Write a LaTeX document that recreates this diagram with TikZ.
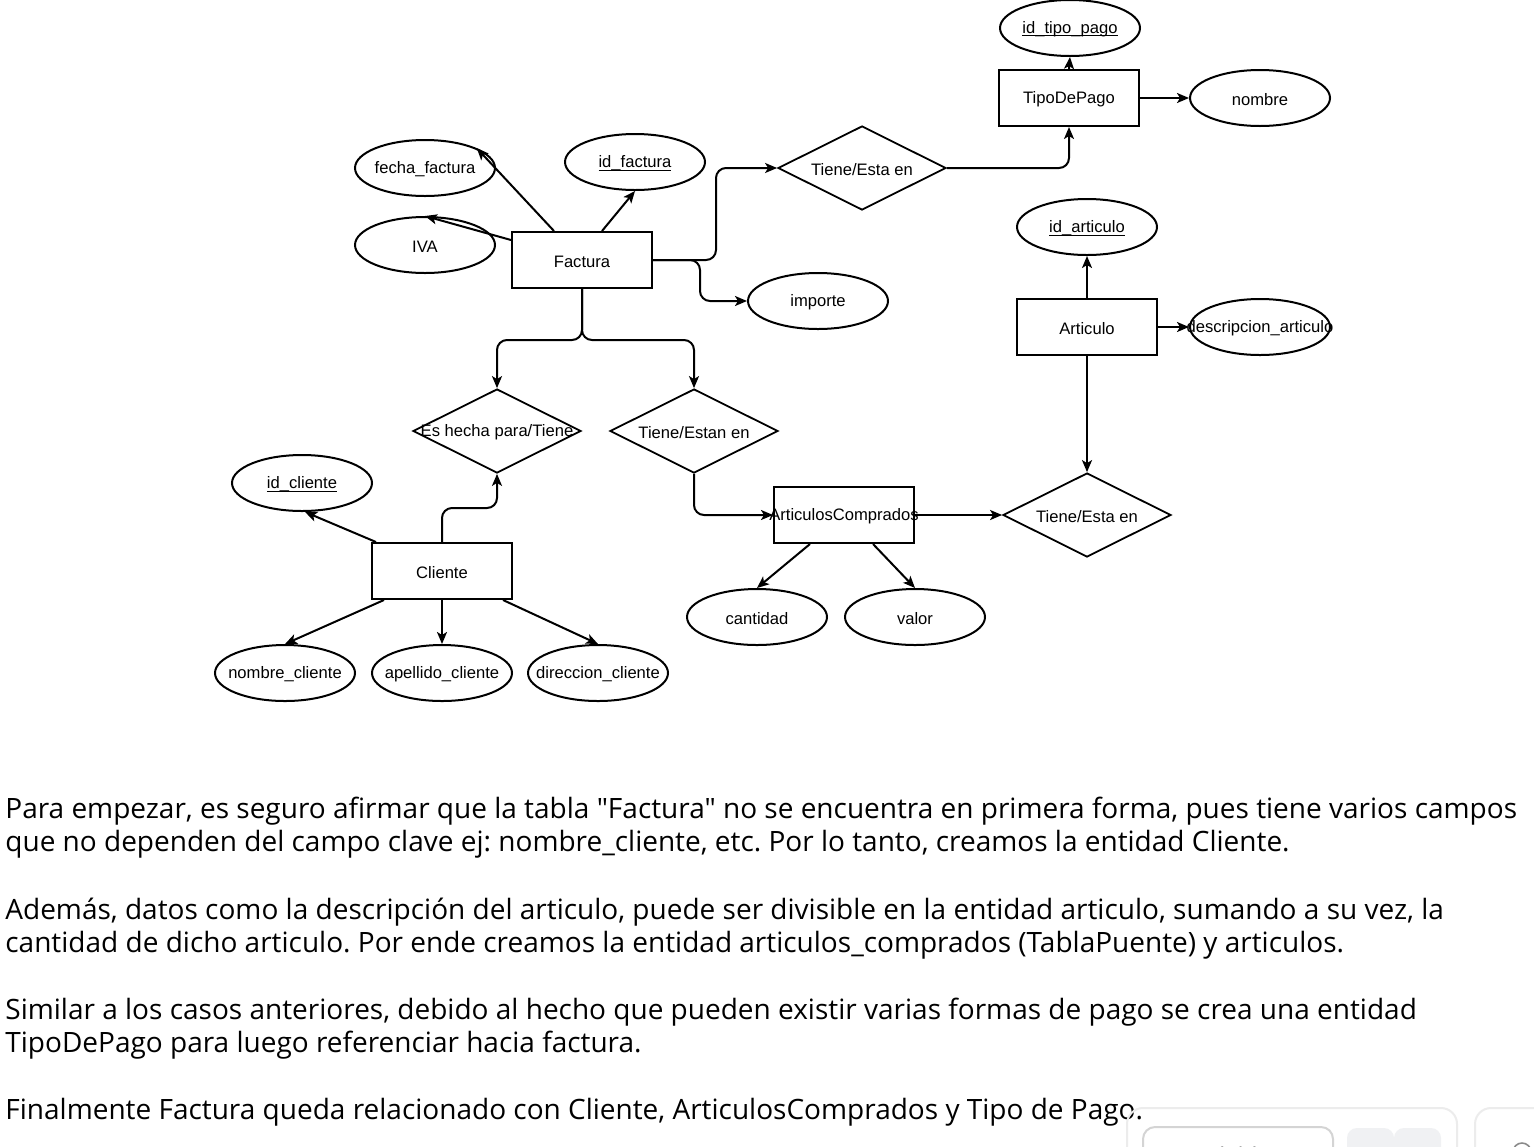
\documentclass[tikz,border=0pt]{standalone}
\usepackage{fontspec}
\setmainfont{Open Sans}[Ligatures=TeXOff]
\newfontfamily\dfont{Liberation Sans}
\usetikzlibrary{shapes.geometric,arrows.meta,calc}
\definecolor{uiborder}{HTML}{ECECEC}
\definecolor{uiinput}{HTML}{D4D4D4}
\definecolor{uibtn}{HTML}{F0F1F3}
\definecolor{uitext}{HTML}{8A8A8A}
\frenchspacing
\newcommand\keyul[1]{\setbox0\hbox{#1}\rlap{\rule[-1.3pt]{\wd0}{0.5pt}}\box0}
\begin{document}
\begin{tikzpicture}[x=0.5pt,y=-0.5pt,
  lab/.style={font=\dfont\fontsize{8.3pt}{10pt}\selectfont,inner sep=0pt,yshift=-0.8pt},
  ent/.style={draw,line width=1pt,rectangle,minimum width=70pt,minimum height=28pt,inner sep=0pt,label={[lab]center:#1}},
  att/.style={draw,line width=1pt,ellipse,minimum width=70pt,minimum height=28pt,inner sep=0pt,label={[lab]center:#1}},
  rel/.style={draw,line width=0.9pt,diamond,minimum width=84pt,minimum height=42pt,inner sep=0pt,shape aspect=2,label={[lab]center:#1}},
  conn/.style={line width=1pt,-{Stealth[length=6pt,width=5pt,inset=1.5pt]}},
  orth/.style={conn,rounded corners=5pt},
  body/.style={anchor=west,inner sep=0pt,font=\fontsize{14pt}{17pt}\selectfont},
]
\useasboundingbox (0,0) rectangle (1534,1146);
\clip (0,0) rectangle (1534,1146);
\fill[white] (0,0) rectangle (1534,1146);

% entities
\node[ent={TipoDePago}] (tdp) at (1069,98) {};
\node[ent={Factura}] (fac) at (582,260) {};
\node[ent={Articulo}] (art) at (1087,327) {};
\node[ent={Cliente}] (cli) at (442,571) {};
\node[ent={ArticulosComprados}] (acp) at (844,515) {};

% attributes
\node[att={\keyul{id\_tipo\_pago}}] (idtp) at (1070,28) {};
\node[att={nombre}] (nom) at (1260,98) {};
\node[att={fecha\_factura}] (fecha) at (425,168) {};
\node[att={\keyul{id\_factura}}] (idf) at (635,162) {};
\node[att={IVA}] (iva) at (425,245) {};
\node[att={importe}] (imp) at (818,301) {};
\node[att={\keyul{id\_articulo}}] (ida) at (1087,227) {};
\node[att={descripcion\_articulo}] (desc) at (1260,327) {};
\node[att={\keyul{id\_cliente}}] (idc) at (302,483) {};
\node[att={cantidad}] (cant) at (757,617) {};
\node[att={valor}] (val) at (915,617) {};
\node[att={nombre\_cliente}] (nc) at (285,673) {};
\node[att={apellido\_cliente}] (apc) at (442,673) {};
\node[att={direccion\_cliente}] (dc) at (598,673) {};

% relationships
\node[rel={Tiene/Esta en}] (r1) at (862,168) {};
\node[rel={Es hecha para/Tiene}] (r2) at (497,431) {};
\node[rel={Tiene/Estan en}] (r3) at (694,431) {};
\node[rel={Tiene/Esta en}] (r4) at (1087,515) {};

% connectors around Factura
\draw[conn] ($(fac.north west)+(43,0)$) -- (fecha.21);
\draw[conn] ($(fac.north west)+(91,0)$) -- (idf.south);
\draw[conn] ($(fac.north west)+(0,9)$) -- (iva.north);
\draw[orth] (fac.east) -- (716,260) -- (716,168) -- (r1.west);
\draw[orth] (fac.east) -- (700,260) -- (700,301) -- (imp.west);
\draw[orth] (fac.south) -- (582,340) -- (497,340) -- (r2.north);
\draw[orth] (fac.south) -- (582,340) -- (694,340) -- (r3.north);

% TipoDePago
\draw[orth] (r1.east) -- (1069,168) -- (tdp.south);
\draw[conn] (tdp.north) -- (idtp.south);
\draw[conn] (tdp.east) -- (nom.west);

% Articulo
\draw[conn] (art.north) -- (ida.south);
\draw[conn] (art.east) -- (desc.west);
\draw[conn] (art.south) -- (r4.north);

% ArticulosComprados
\draw[orth] (r3.south) -- (694,515) -- (acp.west);
\draw[conn] (acp.east) -- (r4.west);
\draw[conn] ($(acp.south west)+(37,0)$) -- (cant.north);
\draw[conn] ($(acp.south east)+(-42,0)$) -- (val.north);

% Cliente
\draw[orth] (cli.north) -- (442,508) -- (497,508) -- (r2.south);
\draw[conn] ($(cli.north west)+(5,0)$) -- (idc.-84);
\draw[conn] ($(cli.south west)+(13,0)$) -- (nc.north);
\draw[conn] (cli.south) -- (apc.north);
\draw[conn] ($(cli.south east)+(-10,0)$) -- (dc.north);

% body text
\node[body] (t1) at (5,811) {Para empezar, es seguro afirmar que la tabla "Factura" no se encuentra en primera forma, pues tiene varios campos};
\node[body] (t2) at (5,844) {que no dependen del campo clave ej: nombre\_cliente, etc. Por lo tanto, creamos la entidad Cliente.};
\node[body] (t3) at (5,912) {Además, datos como la descripción del articulo, puede ser divisible en la entidad articulo, sumando a su vez, la};
\node[body] (t4) at (5,945) {cantidad de dicho articulo. Por ende creamos la entidad articulos\_comprados (TablaPuente) y articulos.};
\node[body] (t5) at (5,1012) {Similar a los casos anteriores, debido al hecho que pueden existir varias formas de pago se crea una entidad};
\node[body] (t6) at (5,1045) {TipoDePago para luego referenciar hacia factura.};
\node[body] (t7) at (5,1112) {Finalmente Factura queda relacionado con Cliente, ArticulosComprados y Tipo de Pago.};

% partial UI widgets at bottom right
\draw[uiborder,line width=1pt,rounded corners=8pt] (1127,1170) -- (1127,1108) -- (1457,1108) -- (1457,1170);
\draw[uiinput,line width=1pt,rounded corners=6pt] (1143,1170) -- (1143,1127) -- (1333,1127) -- (1333,1170);
\fill[uibtn,rounded corners=5pt] (1347,1128) rectangle (1394,1170);
\fill[uibtn,rounded corners=5pt] (1394,1128) rectangle (1441,1170);
\node[text=uitext,font=\fontsize{11pt}{13pt}\selectfont] (pg) at (1238,1155) {1 / 1};
\draw[uiborder,line width=1pt,rounded corners=8pt] (1475,1170) -- (1475,1108) -- (1545,1108);
\draw[uitext,line width=0.8pt] (1522,1152) circle (9);
\end{tikzpicture}
\end{document}
